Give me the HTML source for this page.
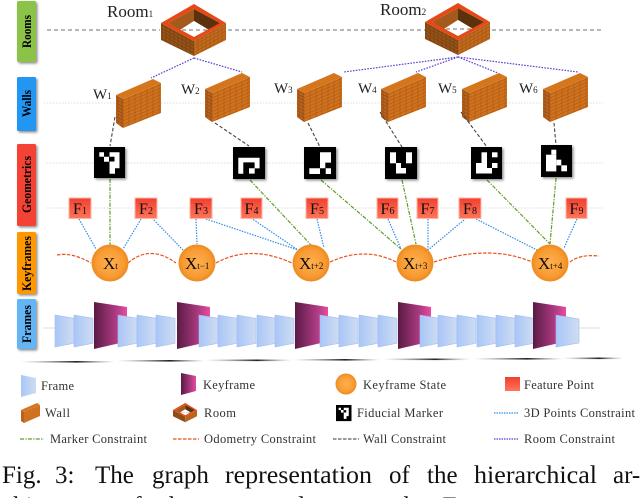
<!DOCTYPE html>
<html><head><meta charset="utf-8"><style>
html,body{margin:0;padding:0;background:#fff}
svg{display:block;font-family:"Liberation Serif",serif}
</style></head><body>
<svg width="640" height="498" viewBox="0 0 640 498" xmlns="http://www.w3.org/2000/svg">
<defs>
<filter id="sh" x="-30%" y="-30%" width="170%" height="170%"><feDropShadow dx="1.5" dy="1.5" stdDeviation="1.3" flood-color="#000" flood-opacity=".45"/></filter>
<filter id="soft" x="-5%" y="-5%" width="110%" height="110%"><feGaussianBlur stdDeviation=".3"/></filter>
<pattern id="bf" width="6" height="3.4" patternUnits="userSpaceOnUse" patternTransform="skewY(-23)"><rect width="6" height="3.4" fill="#d0711f"/><path d="M0 3.2H6M3 0V3.200" stroke="#a35616" stroke-width=".5"/></pattern>
<pattern id="bd" width="4" height="3.4" patternUnits="userSpaceOnUse" patternTransform="skewY(23)"><rect width="4" height="3.4" fill="#b9621c"/><path d="M0 3.2H4M2 0V3.200" stroke="#874512" stroke-width=".5"/></pattern>
<pattern id="bk" width="4" height="3.4" patternUnits="userSpaceOnUse" patternTransform="skewY(-29)"><rect width="4" height="3.4" fill="#c46a1d"/><path d="M0 3.2H4M2 0V3.200" stroke="#945014" stroke-width=".5"/></pattern>
<pattern id="bl" width="4" height="3.4" patternUnits="userSpaceOnUse" patternTransform="skewY(29)"><rect width="4" height="3.4" fill="#965218"/><path d="M0 3.2H4M2 0V3.200" stroke="#6b3810" stroke-width=".5"/></pattern>
<linearGradient id="gf" x1="0" x2="1" y1="0" y2="0"><stop offset="0" stop-color="#a9c6f7"/><stop offset="1" stop-color="#cfdcf2"/></linearGradient>
<linearGradient id="gk" x1="0" x2="1" y1="0" y2="0"><stop offset="0" stop-color="#5a1a45"/><stop offset=".7" stop-color="#b33d86"/><stop offset="1" stop-color="#ea4b9f"/></linearGradient>
<linearGradient id="gs" x1="0" x2="0" y1="0" y2="1"><stop offset="0" stop-color="#f0402f"/><stop offset="1" stop-color="#ff7558"/></linearGradient>
<radialGradient id="gc"><stop offset="0" stop-color="#fdb050"/><stop offset=".75" stop-color="#f89b32"/><stop offset="1" stop-color="#ec8a20"/></radialGradient>
<linearGradient id="gl" x1="0" x2="1" y1="0" y2="0"><stop offset="0" stop-color="#888" stop-opacity="0"/><stop offset=".6" stop-color="#222"/><stop offset="1" stop-color="#888" stop-opacity="0"/></linearGradient>
<g id="wall">
<polygon points="116,95 123,99 123,128 116,123" fill="url(#bd)"/>
<polygon points="123,99 161,83 161,113 123,128" fill="url(#bf)"/>
<polygon points="116,95 153,79 161,83 123,99" fill="#d5761f"/>
</g>
<g id="room">
<polygon points="161,23 194,41 194,56 161,40" fill="url(#bl)"/>
<polygon points="226,23 194,41 194,56 226,40" fill="url(#bk)"/>
<polygon points="168,23 194,9 194,21 180,30" fill="#a35a1a"/>
<polygon points="194,9 220,23 209,30 194,21" fill="#5c3110"/>
<polygon points="180,30 194,21 209,30 194,38" fill="#fff"/>
<path d="M194 4L226 23L194 41L161 23ZM194 9L168 23L194 37L220 23Z" fill="#e64a19" fill-rule="evenodd"/>
<path d="M182 30H207" stroke="#444" stroke-width=".8" stroke-dasharray="4 3"/>
</g>
<polygon id="fr" points="0,0 19,3.3 19,28.3 0,32" fill="url(#gf)" stroke="#9dbdf0" stroke-width=".6"/>
<polygon id="kf" points="0,0 33,5 33,41 24,41.5 0,47" fill="url(#gk)"/>
<g id="mk1"><rect width="31" height="31" fill="#000"/><path d="M5.3 5.3h4.7v4.5h-4.7zM10 9.7h5v5h-5zM15.5 5.3h10v16h-4.5v5.5h-5.5v-12.3h5v-4.7h-5z" fill="#fff"/></g>
</defs>

<!-- side labels -->
<g filter="url(#sh)">
<rect x="17" y="1" width="19" height="61" rx="1.5" fill="#8bc34a"/>
<rect x="17" y="77" width="19" height="54" rx="1.5" fill="#2196f3"/>
<rect x="17" y="144" width="19" height="82" rx="1.5" fill="#f44336"/>
<rect x="17" y="232" width="19" height="62" rx="1.5" fill="#ff9800"/>
<rect x="17" y="299" width="19" height="50" rx="1.5" fill="#64b5f6"/>
</g>
<g font-weight="bold" font-size="13" fill="#000" filter="url(#soft)">
<text transform="translate(31,48) rotate(-90)" textLength="33" lengthAdjust="spacingAndGlyphs">Rooms</text>
<text transform="translate(31,117) rotate(-90)" textLength="27" lengthAdjust="spacingAndGlyphs">Walls</text>
<text transform="translate(31,213) rotate(-90)" textLength="57" lengthAdjust="spacingAndGlyphs">Geometrics</text>
<text transform="translate(31,291) rotate(-90)" textLength="55" lengthAdjust="spacingAndGlyphs">Keyframes</text>
<text transform="translate(31,343) rotate(-90)" textLength="38" lengthAdjust="spacingAndGlyphs">Frames</text>
</g>

<!-- row guides -->
<path d="M47 30H160M228 30H425M492 30H603" stroke="#444" stroke-width=".8" stroke-dasharray="4 3"/>
<path d="M44 103H603M47 163H603M47 208H603" stroke="#ddd" stroke-width="1" stroke-dasharray="1.5 1.5"/>
<path d="M43 328H600" stroke="#ddd" stroke-width="1"/>

<!-- rooms and walls -->
<g filter="url(#soft)">
<use href="#room"/>
<use href="#room" transform="translate(264,-1)"/>
<use href="#wall"/>
<use href="#wall" transform="translate(89,-6)"/>
<use href="#wall" transform="translate(181,-6)"/>
<use href="#wall" transform="translate(265,-6)"/>
<use href="#wall" transform="translate(346,-6)"/>
<use href="#wall" transform="translate(427,-6)"/>
</g>

<!-- room constraints -->
<path d="M194 58L151 78M194 58L242 72M458 57L344 72M458 57L416 72M458 57L498 73M458 57L578 72" stroke="#5a3fd0" stroke-width="1.2" stroke-dasharray="1.6 1.3" fill="none"/>
<!-- wall constraints -->
<path d="M115 117L110 146M215 123L249 146M308 123L320 147M380 112L402 147M461 112L487 147M554 123L556 145" stroke="#444" stroke-width="1.1" stroke-dasharray="3.5 2" fill="none"/>
<!-- marker constraints -->
<path d="M110 179L110 245M250 180L311 245M321 180L401 249M402 180L416 244M487 180L550 244M556 178L550 244" stroke="#5f9e2a" stroke-width="1.2" stroke-dasharray="4 1.3 1.3 1.3" fill="none"/>
<!-- point constraints -->
<path d="M79 219L96 249M141 219L123 249M152 218L183 250M196 219L197 244M206 219L298 250M251 218L298 250M317 219L324 248M388 219L401 249M428 219L428 250M464 220L428 250M476 219L537 250M577 219L564 248" stroke="#2f8ee8" stroke-width="1.2" stroke-dasharray="1.5 1.2" fill="none"/>
<!-- odometry -->
<path d="M57 255Q72 252 91 263M128 263Q150 244 176 263M216 263Q250 244 292 263M330 262Q365 246 396 262M434 262Q490 244 532 262M570 262Q580 254 599 256" stroke="#e8521a" stroke-width="1.2" stroke-dasharray="3.5 1.5" fill="none"/>

<!-- markers -->
<g filter="url(#sh)">
<use href="#mk1" x="94" y="147"/>
<g transform="translate(233,147)"><rect width="32" height="32" fill="#000"/><path d="M5.3 10.7h21.3v10.7h-5v-6h-11.3v11.3h-5zM16 21.3h5.7v5.3h-5.7z" fill="#fff"/></g>
<g transform="translate(304,147)"><rect width="32" height="32" fill="#000"/><path d="M16 5.3h11v10.3h-5.7v5.7h-5.300zM5.3 21.3h10.7v5.7h-10.700zM21.7 21.3h5.3v5.7h-5.300z" fill="#fff"/></g>
<g transform="translate(385,147)"><rect width="32" height="32" fill="#000"/><g fill="#fff"><rect x="5" y="5.300" width="6" height="11"/><rect x="21" y="5.300" width="6" height="11"/><rect x="11" y="16" width="5" height="5.500"/><rect x="11" y="21" width="10" height="5.500"/></g></g>
<g transform="translate(471,147)"><rect width="31" height="32" fill="#000"/><g fill="#fff"><rect x="10.500" y="5.300" width="5.500" height="16"/><rect x="5" y="16" width="5.500" height="10.500"/><rect x="5" y="21" width="16" height="5.500"/><rect x="21" y="5.300" width="5.500" height="5"/><rect x="21" y="16" width="5.500" height="5"/></g></g>
<g transform="translate(541,145)"><rect width="31" height="32" fill="#000"/><g fill="#fff"><rect x="10.300" y="4.700" width="5" height="5"/><rect x="5" y="9.700" width="10.300" height="16.700"/><rect x="15.300" y="14.700" width="5" height="5.700"/><rect x="20.300" y="20.300" width="5.700" height="6"/></g></g>
</g>

<!-- feature squares -->
<g fill="url(#gs)" stroke="#ffb4a8" stroke-width="1">
<rect x="69" y="198" width="22" height="20.500"/><rect x="135" y="198" width="22" height="20.500"/><rect x="190" y="198" width="22" height="20.500"/><rect x="241" y="198" width="21" height="20.500"/><rect x="306" y="198" width="22" height="20.500"/><rect x="377" y="198" width="21" height="20.500"/><rect x="417" y="198" width="21" height="20.500"/><rect x="459" y="198" width="22" height="20.500"/><rect x="566" y="198" width="21" height="20.500"/>
</g>
<g font-size="16" fill="#111" text-anchor="middle" filter="url(#soft)">
<text x="80" y="214">F<tspan font-size="10">1</tspan></text>
<text x="146" y="214">F<tspan font-size="10">2</tspan></text>
<text x="201" y="214">F<tspan font-size="10">3</tspan></text>
<text x="251.500" y="214">F<tspan font-size="10">4</tspan></text>
<text x="317" y="214">F<tspan font-size="10">5</tspan></text>
<text x="387.500" y="214">F<tspan font-size="10">6</tspan></text>
<text x="427.500" y="214">F<tspan font-size="10">7</tspan></text>
<text x="470" y="214">F<tspan font-size="10">8</tspan></text>
<text x="576.500" y="214">F<tspan font-size="10">9</tspan></text>
</g>

<!-- keyframe states -->
<g fill="url(#gc)">
<circle cx="110" cy="263" r="18.500"/><circle cx="197" cy="263" r="18.500"/><circle cx="311" cy="263" r="18.500"/><circle cx="415" cy="263" r="18.500"/><circle cx="550" cy="263" r="18.500"/>
</g>
<g font-size="17" fill="#111" filter="url(#soft)">
<text x="103" y="269">X<tspan font-size="9">t</tspan></text>
<text x="185" y="269">X<tspan font-size="9">t−1</tspan></text>
<text x="299" y="269">X<tspan font-size="9">t+2</tspan></text>
<text x="403" y="269">X<tspan font-size="9">t+3</tspan></text>
<text x="538" y="269">X<tspan font-size="9">t+4</tspan></text>
</g>

<!-- frames -->
<g transform="translate(0,315)">
<use href="#fr" x="55"/><use href="#fr" x="74"/>
<use href="#kf" x="94" y="-13"/>
<use href="#fr" x="118"/><use href="#fr" x="137"/><use href="#fr" x="156"/>
<use href="#kf" x="177" y="-13"/>
<use href="#fr" x="199"/><use href="#fr" x="218"/><use href="#fr" x="237"/><use href="#fr" x="257"/><use href="#fr" x="275"/>
<use href="#kf" x="295" y="-13"/>
<use href="#fr" x="320"/><use href="#fr" x="339"/><use href="#fr" x="359"/><use href="#fr" x="378"/>
<use href="#kf" x="398" y="-13"/>
<use href="#fr" x="420"/><use href="#fr" x="438"/><use href="#fr" x="457"/><use href="#fr" x="477"/><use href="#fr" x="496"/><use href="#fr" x="515"/>
<use href="#kf" x="533" y="-13"/>
<polygon points="556,0 579,4 579,28 556,32" fill="url(#gf)" stroke="#9dbdf0" stroke-width=".6"/>
</g>

<!-- bottom rule -->
<g fill="url(#gl)">
<rect x="20" y="361" width="95" height="1.600"/>
<rect x="117" y="360" width="88" height="1.600"/>
<rect x="205" y="359.500" width="87" height="1.600"/>
<rect x="293" y="359" width="87" height="1.600"/>
<rect x="383" y="358.500" width="87" height="1.600"/>
<rect x="473" y="358" width="90" height="1.600"/>
<rect x="563" y="357.500" width="60" height="1.600"/>
</g>

<!-- node labels -->
<g fill="#222" filter="url(#soft)">
<text x="107" y="17" font-size="17">Room<tspan font-size="9">1</tspan></text>
<text x="380" y="15" font-size="17">Room<tspan font-size="9">2</tspan></text>
<text x="93" y="99" font-size="15">W<tspan font-size="9">1</tspan></text>
<text x="181" y="94" font-size="15">W<tspan font-size="9">2</tspan></text>
<text x="274" y="93" font-size="15">W<tspan font-size="9">3</tspan></text>
<text x="358" y="93" font-size="15">W<tspan font-size="9">4</tspan></text>
<text x="438" y="93" font-size="15">W<tspan font-size="9">5</tspan></text>
<text x="519" y="93" font-size="15">W<tspan font-size="9">6</tspan></text>
</g>

<!-- legend icons -->
<polygon points="21,375 36,378 36,393 21,397" fill="url(#gf)"/>
<polygon points="181,373 196,376 196,391 181,395" fill="url(#gk)"/>
<circle cx="346" cy="384" r="10.500" fill="url(#gc)"/>
<rect x="505" y="377" width="15" height="14" fill="url(#gs)"/>
<polygon points="21,410 24,412 24,423 21,421" fill="#b9621c"/>
<polygon points="24,412 40,405 40,416 24,423" fill="#d0711f"/>
<polygon points="21,410 37,403 40,405 24,412" fill="#d5761f"/>
<use href="#room" transform="translate(113.400,401.500) scale(.37)"/>
<g transform="translate(336,405) scale(.5,.52)"><use href="#mk1"/></g>
<path d="M20 439H44" stroke="#5f9e2a" stroke-width="1.200" stroke-dasharray="4 1.300 1.300 1.300"/>
<path d="M173 439H199" stroke="#e8521a" stroke-width="1.300" stroke-dasharray="3.500 1.500"/>
<path d="M333 439H359" stroke="#333" stroke-width="1.100" stroke-dasharray="3.500 1.500"/>
<path d="M494 413H519" stroke="#2f8ee8" stroke-width="1.200" stroke-dasharray="1.500 1"/>
<path d="M494 439H519" stroke="#5a3fd0" stroke-width="1.200" stroke-dasharray="1.500 1"/>

<!-- legend text -->
<g font-size="12.500" fill="#333" filter="url(#soft)">
<text x="41" y="390" textLength="33">Frame</text>
<text x="203" y="389" textLength="52">Keyframe</text>
<text x="363" y="389" textLength="83">Keyframe State</text>
<text x="524" y="389" textLength="70">Feature Point</text>
<text x="45" y="417" textLength="25">Wall</text>
<text x="204" y="417" textLength="32">Room</text>
<text x="357" y="417" textLength="86">Fiducial Marker</text>
<text x="524" y="417" textLength="111">3D Points Constraint</text>
<text x="50" y="443" textLength="97">Marker Constraint</text>
<text x="204" y="443" textLength="112">Odometry Constraint</text>
<text x="363" y="443" textLength="83">Wall Constraint</text>
<text x="524" y="443" textLength="91">Room Constraint</text>
</g>

<!-- caption -->
<g font-size="25" fill="#111">
<text x="2" y="483">Fig.</text>
<text x="55" y="483">3:</text>
<text x="95" y="483">The</text>
<text x="152" y="483">graph</text>
<text x="225" y="483" textLength="147" lengthAdjust="spacingAndGlyphs">representation</text>
<text x="389" y="483">of</text>
<text x="427" y="483">the</text>
<text x="474" y="483" textLength="123" lengthAdjust="spacingAndGlyphs">hierarchical</text>
<text x="613" y="483">ar-</text>
<text x="2" y="514" word-spacing="14">chitecture of the proposed approach. Frames</text>
</g>
</svg>
</body></html>
